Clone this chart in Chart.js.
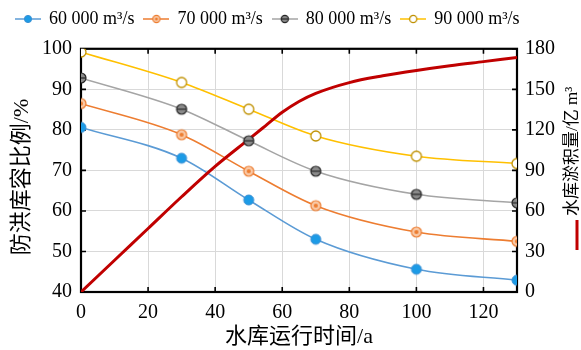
<!DOCTYPE html>
<html><head><meta charset="utf-8">
<script src="https://cdn.jsdelivr.net/npm/chart.js@4"></script>
<style>html,body{margin:0;padding:0;background:#fff}</style>
</head><body>
<canvas id="c" width="581" height="350"></canvas>
<script>
// ---- data ----
const years = [0, 30, 50, 70, 100, 130];
const q60 = [80.6, 73.0, 62.7, 53.0, 45.6, 42.9];
const q70 = [86.5, 78.8, 69.8, 61.3, 54.8, 52.5];
const q80 = [92.8, 85.1, 77.3, 69.8, 64.1, 62.0];
const q90 = [99.2, 91.7, 85.1, 78.5, 73.5, 71.7];
const sedYears = [0, 10, 20, 30, 40, 50, 55, 60, 65, 70, 80, 90, 100, 110, 120, 130];
const sediment = [0, 23.5, 47, 70.5, 93, 113, 123, 133, 141, 147, 155, 160, 164, 167.5, 170.5, 173.5];
const seriesLabels = ['60 000 m³/s', '70 000 m³/s', '80 000 m³/s', '90 000 m³/s'];
const xTicks = [0, 20, 40, 60, 80, 100, 120];
const yTicks = [40, 50, 60, 70, 80, 90, 100];
const y2Ticks = [0, 30, 60, 90, 120, 150, 180];
const xTitle = '水库运行时间/a';
const yTitle = '防洪库容比例/%';
const y2Title = '水库淤积量/亿 m³';

// ---- styles ----
const FAM = '"Liberation Serif", "Noto Sans CJK SC", serif';
const kinds = ['blue', 'orange', 'gray', 'yellow'];
const lineColors = ['#5b9bd5', '#ed7d31', '#a5a5a5', '#ffc000'];

function marker(kind, r, withLine, lineColor) {
  const h = Math.ceil(2 * r + 4);
  const w = withLine ? 26 : h;
  const c = document.createElement('canvas'); c.width = w; c.height = h;
  const g = c.getContext('2d'); const cx = w / 2, cy = h / 2;
  if (withLine) { g.strokeStyle = lineColor; g.lineWidth = 1.5; g.beginPath(); g.moveTo(0, cy); g.lineTo(w, cy); g.stroke(); }
  g.beginPath(); g.arc(cx, cy, r, 0, 2 * Math.PI);
  if (kind === 'blue') { g.fillStyle = '#1c9be6'; g.fill(); g.lineWidth = 1; g.strokeStyle = '#3a8fd3'; g.stroke(); }
  else if (kind === 'orange') { g.fillStyle = '#f9c9a6'; g.fill(); g.lineWidth = 1.2; g.strokeStyle = '#ed7d31'; g.stroke();
    g.beginPath(); g.arc(cx, cy, r * 0.42, 0, 2 * Math.PI); g.fillStyle = '#ed7d31'; g.fill(); }
  else if (kind === 'gray') { g.fillStyle = '#8a8a8a'; g.fill(); g.lineWidth = 1.2; g.strokeStyle = '#262626'; g.stroke();
    g.beginPath(); g.moveTo(cx - r, cy); g.lineTo(cx + r, cy); g.lineWidth = 1.2; g.stroke(); }
  else { g.fillStyle = '#ffffff'; g.fill(); g.lineWidth = 1.3; g.strokeStyle = '#bf9000'; g.stroke(); }
  return c;
}

const series = [q60, q70, q80, q90];
const datasets = [];
series.forEach((s, i) => {
  datasets.push({
    label: seriesLabels[i], data: years.map((x, k) => ({x, y: s[k]})), yAxisID: 'y',
    borderColor: lineColors[i], borderWidth: 1.6, pointRadius: 0, fill: false,
    cubicInterpolationMode: 'monotone', order: 2
  });
});
datasets.push({
  label: 'sediment', data: sedYears.map((x, k) => ({x, y: sediment[k]})), yAxisID: 'y2',
  borderColor: '#c00000', borderWidth: 3, pointRadius: 0, fill: false,
  cubicInterpolationMode: 'monotone', order: 1
});
series.forEach((s, i) => {
  datasets.push({
    label: seriesLabels[i] + ' pts', data: years.map((x, k) => ({x, y: s[k]})), yAxisID: 'y',
    showLine: false, pointStyle: marker(kinds[i], 5, false), pointRadius: 5, order: 0
  });
});

const legendImgs = kinds.map((k, i) => marker(k, 3.6, true, lineColors[i]));

const framePlugin = {
  id: 'frame',
  beforeDatasetsDraw(chart) {
    const {ctx, chartArea: a, scales} = chart;
    ctx.save();
    ctx.strokeStyle = '#000';
    ctx.lineWidth = 1.6;
    ctx.beginPath();
    xTicks.forEach(v => { const p = scales.x.getPixelForValue(v);
      ctx.moveTo(p, a.bottom); ctx.lineTo(p, a.bottom - 5); ctx.moveTo(p, a.top); ctx.lineTo(p, a.top + 5); });
    yTicks.forEach(v => { const p = scales.y.getPixelForValue(v); ctx.moveTo(a.left, p); ctx.lineTo(a.left + 5, p); });
    y2Ticks.forEach(v => { const p = scales.y2.getPixelForValue(v); ctx.moveTo(a.right, p); ctx.lineTo(a.right - 5, p); });
    ctx.stroke();
    ctx.lineWidth = 2.2;
    ctx.strokeRect(a.left, a.top, a.right - a.left, a.bottom - a.top);
    ctx.restore();
  },
  afterDraw(chart) {
    const ctx = chart.ctx;
    // left axis title
    ctx.save();
    ctx.translate(22, 177);
    ctx.rotate(-Math.PI / 2);
    ctx.font = '22px ' + FAM;
    ctx.fillStyle = '#000';
    ctx.textAlign = 'center';
    ctx.textBaseline = 'middle';
    ctx.fillText(yTitle, 0, 0);
    ctx.restore();
    // right axis title
    ctx.save();
    ctx.translate(573, 216);
    ctx.rotate(-Math.PI / 2);
    ctx.font = '17px ' + FAM;
    ctx.fillStyle = '#000';
    ctx.textAlign = 'left';
    ctx.textBaseline = 'middle';
    ctx.fillText(y2Title, 0, 0);
    ctx.restore();
    ctx.save();
    ctx.strokeStyle = '#c00000'; ctx.lineWidth = 3;
    ctx.beginPath(); ctx.moveTo(577, 220); ctx.lineTo(577, 250); ctx.stroke();
    ctx.restore();
  }
};

const tickFont = {size: 20, family: FAM};
new Chart(document.getElementById('c'), {
  type: 'line',
  data: {datasets},
  plugins: [framePlugin],
  options: {
    responsive: false, animation: false, devicePixelRatio: 1,
    layout: {padding: {left: 6, right: 0, top: 0, bottom: 0}},
    plugins: {
      tooltip: {enabled: false},
      subtitle: {display: true, text: '', weight: 500, position: 'top', font: {size: 9}, padding: 0},
      legend: {
        position: 'top', align: 'start',
        labels: {
          usePointStyle: true, pointStyleWidth: 24, padding: 10, color: '#000',
          font: {size: 18, family: FAM},
          generateLabels: () => seriesLabels.map((t, i) => ({
            text: t, pointStyle: legendImgs[i], fillStyle: lineColors[i], strokeStyle: lineColors[i],
            lineWidth: 0, hidden: false, datasetIndex: i, fontColor: '#000'
          }))
        }
      }
    },
    scales: {
      x: {
        type: 'linear', min: 0, max: 130,
        afterBuildTicks: s => { s.ticks = xTicks.map(v => ({value: v})); },
        afterFit: s => { s.height = 58; },
        grid: {color: '#d9d9d9', lineWidth: 1, drawTicks: false},
        border: {display: false},
        ticks: {padding: 9, color: '#000', font: tickFont, maxRotation: 0, autoSkip: false},
        title: {display: true, text: xTitle, color: '#000', font: {size: 22, family: FAM}, padding: {top: 0, bottom: 0}}
      },
      y: {
        type: 'linear', position: 'left', min: 40, max: 100,
        afterBuildTicks: s => { s.ticks = yTicks.map(v => ({value: v})); },
        afterFit: s => { s.width = 75; },
        grid: {color: '#d9d9d9', lineWidth: 1, drawTicks: false},
        border: {display: false},
        ticks: {padding: 9, color: '#000', font: tickFont}
      },
      y2: {
        type: 'linear', position: 'right', min: 0, max: 180,
        afterBuildTicks: s => { s.ticks = y2Ticks.map(v => ({value: v})); },
        afterFit: s => { s.width = 64; },
        grid: {display: false, drawTicks: false},
        border: {display: false},
        ticks: {padding: 8, color: '#000', font: tickFont}
      }
    }
  }
});
</script>
</body></html>
